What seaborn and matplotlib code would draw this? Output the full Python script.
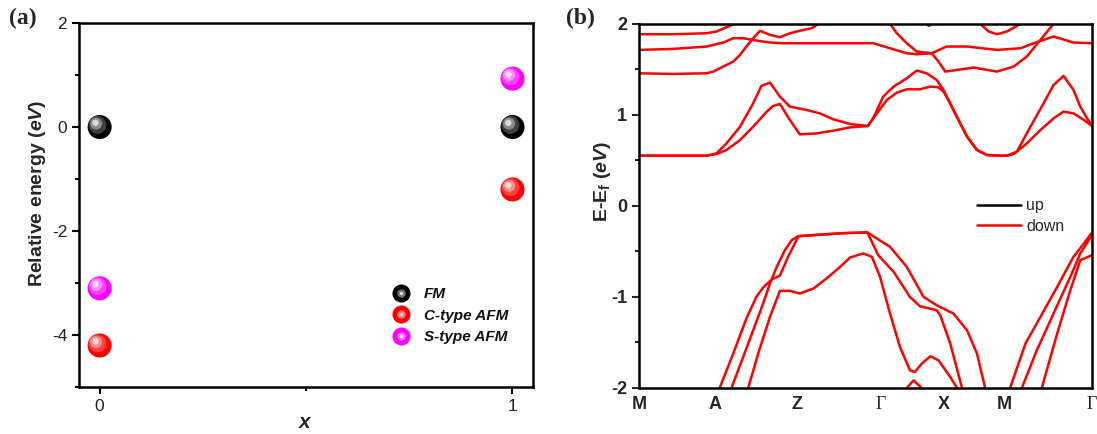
import numpy as np
import pandas as pd
import matplotlib
matplotlib.use("Agg")
import matplotlib.pyplot as plt
import matplotlib.transforms as mtransforms
from matplotlib.lines import Line2D
from matplotlib.legend_handler import HandlerTuple
import seaborn as sns

sns.set_theme(style="ticks")
plt.rcParams['font.family'] = ['Liberation Sans', 'DejaVu Sans']
plt.rcParams['axes.unicode_minus'] = False
plt.rcParams['mathtext.fontset'] = 'custom'
plt.rcParams['mathtext.rm'] = 'Liberation Sans'
plt.rcParams['mathtext.it'] = 'Liberation Sans:italic'
plt.rcParams['mathtext.bf'] = 'Liberation Sans:bold'
plt.rcParams['mathtext.bfit'] = 'Liberation Sans:bold:italic'

# ---------------- Panel (a) data ----------------
doping_x = [0, 1]
states = ["FM", "C-type AFM", "S-type AFM"]
energy_FM = [0.0, 0.0]
energy_C_AFM = [-4.2, -1.2]
energy_S_AFM = [-3.1, 0.93]
state_colors = ["#000000", "#ff0000", "#ff00ff"]

# ---------------- Panel (b) data ----------------
kpath_labels = ["M", "A", "Z", "Γ", "X", "M", "Γ"]
kpath_ticks = [0.0, 0.167, 0.348, 0.534, 0.672, 0.807, 1.0]

# spin-down bands: (k, E) node lists
band_c2_k = [0, 0.149, 0.171, 0.193, 0.223, 0.252, 0.270, 0.289, 0.311, 0.333, 0.370, 0.399, 0.429, 0.466, 0.505,
             0.517, 0.539, 0.562, 0.591, 0.613, 0.635, 0.657, 0.672, 0.683, 0.694, 0.724, 0.746, 0.768, 0.797, 0.812,
             0.834, 0.864, 0.893, 0.915, 0.937, 0.959, 0.974, 0.989, 1.0]
band_c2_E = [0.552, 0.552, 0.577, 0.687, 0.870, 1.127, 1.318, 1.355, 1.201, 1.091, 1.054, 1.017, 0.951, 0.900, 0.878,
             0.962, 1.201, 1.311, 1.402, 1.487, 1.457, 1.384, 1.274, 1.164, 1.054, 0.761, 0.614, 0.559, 0.552, 0.552,
             0.596, 0.871, 1.127, 1.329, 1.428, 1.274, 1.091, 0.962, 0.878]
band_c1_k = [0, 0.149, 0.171, 0.193, 0.223, 0.252, 0.282, 0.296, 0.311, 0.333, 0.355, 0.392, 0.429, 0.466, 0.505,
             0.525, 0.547, 0.569, 0.591, 0.620, 0.643, 0.661, 0.672, 0.683, 0.694, 0.724, 0.746, 0.768, 0.797, 0.812,
             0.827, 0.856, 0.886, 0.915, 0.937, 0.959, 0.982, 1.0]
band_c1_E = [0.552, 0.552, 0.570, 0.614, 0.724, 0.871, 1.036, 1.098, 1.120, 0.944, 0.786, 0.797, 0.827, 0.863, 0.878,
             1.017, 1.164, 1.245, 1.281, 1.281, 1.311, 1.303, 1.256, 1.164, 1.054, 0.761, 0.614, 0.559, 0.552, 0.552,
             0.570, 0.687, 0.834, 0.962, 1.036, 1.017, 0.944, 0.878]
band_u1_k = [0, 0.075, 0.149, 0.164, 0.186, 0.208, 0.223, 0.237, 0.252, 0.267, 0.289, 0.311, 0.333, 0.363, 0.381, 0.396]
band_u1_E = [1.457, 1.450, 1.457, 1.476, 1.531, 1.586, 1.659, 1.751, 1.842, 1.923, 1.879, 1.853, 1.897, 1.934, 1.952, 2.0]
band_u2_k = [0, 0.075, 0.149, 0.186, 0.208, 0.230, 0.259, 0.289, 0.318, 0.407, 0.517, 0.554, 0.591, 0.613, 0.646,
             0.679, 0.724, 0.790, 0.842, 0.871, 0.915, 0.959, 1.0]
band_u2_E = [1.714, 1.725, 1.751, 1.795, 1.842, 1.842, 1.817, 1.795, 1.787, 1.787, 1.787, 1.732, 1.677, 1.666, 1.677,
             1.751, 1.751, 1.714, 1.732, 1.787, 1.861, 1.795, 1.787]
band_u3_k = [0, 0.075, 0.149, 0.171, 0.193, 0.211]
band_u3_E = [1.886, 1.886, 1.897, 1.916, 1.963, 2.0]
band_u4_k = [0.554, 0.569, 0.591, 0.613, 0.646, 0.661, 0.676, 0.702, 0.738, 0.790, 0.827, 0.856, 0.886, 0.915]
band_u4_E = [2.0, 1.897, 1.787, 1.696, 1.677, 1.586, 1.476, 1.494, 1.520, 1.476, 1.531, 1.641, 1.824, 2.0]
band_u5_k = [0.753, 0.772, 0.790, 0.812, 0.842]
band_u5_E = [2.0, 1.916, 1.886, 1.916, 2.0]
band_u6_k = [0.634, 0.640, 0.646]
band_u6_E = [2.0, 1.978, 2.0]

band_va_k = [0.178, 0.208, 0.237, 0.259, 0.274, 0.293, 0.311, 0.329, 0.352, 0.407, 0.451, 0.504,
             0.554, 0.591, 0.628, 0.657, 0.694, 0.724, 0.746, 0.764]
band_va_E = [-2.0, -1.622, -1.237, -0.999, -0.896, -0.808, -0.764, -0.559, -0.332, -0.313, -0.299, -0.291,
             -0.449, -0.669, -0.999, -1.091, -1.182, -1.366, -1.622, -2.0]
band_vb_k = [0.204, 0.230, 0.252, 0.274, 0.289, 0.304, 0.322, 0.337, 0.352, 0.407, 0.451, 0.504,
             0.528, 0.562, 0.598, 0.620, 0.657, 0.665, 0.687, 0.713]
band_vb_E = [-2.0, -1.659, -1.366, -1.072, -0.852, -0.669, -0.486, -0.376, -0.332, -0.313, -0.299, -0.291,
             -0.541, -0.724, -0.999, -1.102, -1.146, -1.201, -1.512, -2.0]
band_vc_k = [0.241, 0.263, 0.289, 0.311, 0.333, 0.355, 0.385, 0.414, 0.444, 0.466, 0.495, 0.514, 0.532, 0.554,
             0.576, 0.598, 0.609, 0.624, 0.643, 0.661, 0.687, 0.702]
band_vc_E = [-2.0, -1.622, -1.219, -0.933, -0.933, -0.962, -0.907, -0.797, -0.669, -0.566, -0.522, -0.559,
             -0.779, -1.182, -1.549, -1.806, -1.824, -1.732, -1.652, -1.696, -1.879, -2.0]
band_vd_k = [0.591, 0.606, 0.624]
band_vd_E = [-2.0, -1.916, -2.0]
band_r1_k = [0.819, 0.853, 0.886, 0.923, 0.959, 0.982, 1.0]
band_r1_E = [-2.0, -1.512, -1.219, -0.889, -0.559, -0.412, -0.291]
band_r2_k = [0.845, 0.878, 0.915, 0.952, 0.974, 1.0]
band_r2_E = [-2.0, -1.586, -1.182, -0.779, -0.522, -0.321]
band_r3_k = [0.889, 0.923, 0.952, 0.974, 1.0]
band_r3_E = [-2.0, -1.402, -0.926, -0.596, -0.541]

bands = {
    "c1": (band_c1_k, band_c1_E), "c2": (band_c2_k, band_c2_E),
    "u1": (band_u1_k, band_u1_E), "u2": (band_u2_k, band_u2_E),
    "u3": (band_u3_k, band_u3_E), "u4": (band_u4_k, band_u4_E),
    "u5": (band_u5_k, band_u5_E), "u6": (band_u6_k, band_u6_E),
    "va": (band_va_k, band_va_E), "vb": (band_vb_k, band_vb_E),
    "vc": (band_vc_k, band_vc_E), "vd": (band_vd_k, band_vd_E),
    "r1": (band_r1_k, band_r1_E), "r2": (band_r2_k, band_r2_E),
    "r3": (band_r3_k, band_r3_E),
}

# ---------------- Figure ----------------
fig = plt.figure(figsize=(10.97, 4.34), dpi=100)
axA = fig.add_axes([0.072, 0.108, 0.414, 0.839])
axB = fig.add_axes([0.5825, 0.106, 0.413, 0.839])

def lighten(c, f):
    rgb = np.array(matplotlib.colors.to_rgb(c))
    return tuple(rgb + (1 - rgb) * f)

# Panel (a): sphere-like markers
df_a = pd.DataFrame({
    "x": doping_x * 3,
    "E": energy_FM + energy_C_AFM + energy_S_AFM,
    "state": [states[0]] * 2 + [states[1]] * 2 + [states[2]] * 2,
})
palette = dict(zip(states, state_colors))
sns.scatterplot(data=df_a, x="x", y="E", hue="state", palette=palette, s=300,
                edgecolor="none", legend=False, ax=axA, zorder=3)
layers = [(0.55, 0.25, 1.5), (0.25, 0.55, 2.5), (0.07, 0.85, 3.0)]
for st, col in zip(states, state_colors):
    sub = df_a[df_a.state == st]
    for sf, lf, off in layers:
        tr = axA.transData + mtransforms.ScaledTranslation(-off / 72, off / 72, fig.dpi_scale_trans)
        axA.scatter(sub.x, sub.E, s=300 * sf, color=lighten(col, lf), edgecolor="none",
                    transform=tr, zorder=4)

axA.set_xlim(-0.05, 1.05)
axA.set_ylim(-5, 2)
axA.set_xticks([0, 1])
axA.set_xticks([0.5], minor=True)
axA.set_yticks([2, 0, -2, -4])
axA.set_yticks([1, -1, -3, -5], minor=True)
axA.tick_params(axis="both", which="major", direction="out", length=5, width=1.5,
                labelsize=12.5, color="black", labelcolor="#222222")
axA.tick_params(axis="both", which="minor", direction="out", length=3, width=1.5, color="black")
axA.set_xlabel(r"$\mathbfit{x}$", fontsize=15, labelpad=-1)
axA.set_ylabel(r"Relative energy ($\mathbfit{eV}$)", fontsize=14, fontweight="bold")
axA.yaxis.set_label_coords(-0.068, 0.533)
for sp in axA.spines.values():
    sp.set_linewidth(1.8)
    sp.set_color("black")

handles = []
for col in state_colors:
    base = Line2D([], [], marker="o", linestyle="none", markersize=13, markerfacecolor=col,
                  markeredgecolor="none")
    hl = Line2D([], [], marker="o", linestyle="none", markersize=6, markerfacecolor=lighten(col, 0.45),
                markeredgecolor="none")
    hl2 = Line2D([], [], marker="o", linestyle="none", markersize=2.5, markerfacecolor=lighten(col, 0.85),
                 markeredgecolor="none")
    handles.append((base, hl, hl2))
legA = axA.legend(handles, states, handler_map={tuple: HandlerTuple(ndivide=1, pad=0)},
                  loc="lower right", bbox_to_anchor=(0.975, 0.08), frameon=False,
                  handlelength=1.2, handletextpad=0.9, labelspacing=0.5,
                  prop={"size": 11, "style": "italic", "weight": "bold"})
for t in legA.get_texts():
    t.set_color("#111111")

# Panel (b): band structure
rows = []
for name, (ks, es) in bands.items():
    for i, (k, e) in enumerate(zip(ks, es)):
        rows.append({"band": name, "order": i, "k": k, "E": e, "spin": "down"})
df_b = pd.DataFrame(rows)
sns.lineplot(data=df_b, x="k", y="E", units="band", estimator=None, sort=False,
             color="#ff0000", linewidth=1.8, ax=axB, legend=False)

axB.set_xlim(0, 1)
axB.set_ylim(-2, 2)
axB.set_xticks(kpath_ticks)
axB.set_xticklabels(kpath_labels)
for lbl in axB.get_xticklabels():
    if lbl.get_text() == "Γ":
        lbl.set_fontfamily("Liberation Serif")
        lbl.set_fontweight("normal")
        lbl.set_fontsize(15)
    else:
        lbl.set_fontweight("bold")
axB.set_yticks([2, 1, 0, -1, -2])
axB.set_yticks([1.5, 0.5, -0.5, -1.5], minor=True)
axB.tick_params(axis="x", which="major", length=0, labelsize=13, pad=6)
axB.tick_params(axis="y", which="major", direction="out", length=5, width=1.5, labelsize=13)
axB.tick_params(axis="y", which="minor", direction="out", length=3, width=1.5)
for lbl in axB.get_yticklabels():
    lbl.set_fontweight("bold")
axB.set_xlabel("")
axB.set_ylabel(r"E-E$_\mathbf{f}$ ($\mathbfit{eV}$)", fontsize=14, fontweight="bold")
axB.yaxis.set_label_coords(-0.058, 0.566)
for sp in axB.spines.values():
    sp.set_linewidth(1.8)
    sp.set_color("black")

legB_handles = [Line2D([], [], color="black", lw=1.8), Line2D([], [], color="#ff0000", lw=1.8)]
axB.legend(legB_handles, ["up", "down"], loc="upper left", bbox_to_anchor=(0.715, 0.56),
           frameon=False, handlelength=2.75, handletextpad=0.3, labelspacing=0.35,
           prop={"size": 11.5})

fig.text(0.008, 0.958, "(a)", fontsize=17, fontweight="bold", family="Liberation Serif", va="center")
fig.text(0.516, 0.958, "(b)", fontsize=17, fontweight="bold", family="Liberation Serif", va="center")

fig.savefig("out.png", dpi=100)
